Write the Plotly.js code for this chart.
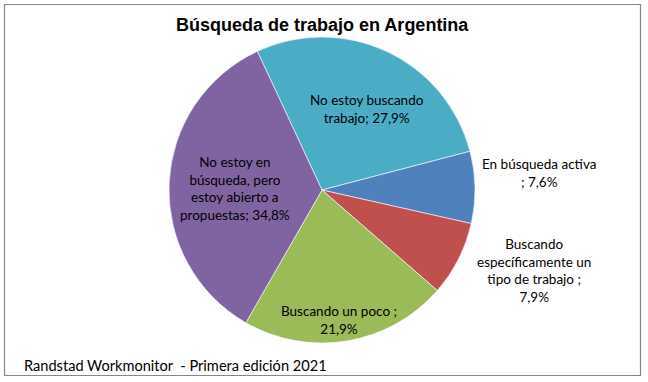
<!DOCTYPE html>
<html>
<head>
<meta charset="utf-8">
<script src="https://cdn.plot.ly/plotly-3.0.1.min.js"></script>
<style>
html,body{margin:0;padding:0;background:#fff;}
#chart{width:648px;height:382px;}
</style>
</head>
<body>
<div id="chart"></div>
<script>
// Data (clockwise order starting at the top-left boundary)
const categories = [
  'No estoy buscando trabajo',
  'En búsqueda activa',
  'Buscando específicamente un tipo de trabajo',
  'Buscando un poco',
  'No estoy en búsqueda, pero estoy abierto a propuestas'
];
const values = [27.9, 7.6, 7.9, 21.9, 34.8];
const colors = ['#4BACC6', '#4F81BD', '#C0504D', '#9BBB59', '#8064A2'];
// Label templates as wrapped in the reference ({v} = value)
const labelTemplates = [
  'No estoy buscando<br>trabajo; {v}',
  'En búsqueda activa<br>; {v}',
  'Buscando<br>específicamente un<br>tipo de trabajo ;<br>{v}',
  'Buscando un poco ;<br>{v}',
  'No estoy en<br>búsqueda, pero<br>estoy abierto a<br>propuestas; {v}'
];
const titleText = 'Búsqueda de trabajo en Argentina';
const sourceText = 'Randstad Workmonitor  - Primera edición 2021';

const W = 648, H = 382;
const fmt = v => v.toFixed(1).replace('.', ',') + '%';
// label block centres in pixels
const labelPos = [[367, 109], [539, 172.5], [534, 270.5], [339, 320], [235, 188.5]];

const annotations = labelTemplates.map((t, i) => ({
  xref: 'paper', yref: 'paper',
  x: labelPos[i][0] / W, y: 1 - labelPos[i][1] / H,
  xanchor: 'center', yanchor: 'middle',
  text: t.replace('{v}', fmt(values[i])),
  showarrow: false, align: 'center',
  font: {family: 'Lato, Carlito, sans-serif', size: 13.5, color: '#000'}
}));
annotations.push({
  xref: 'paper', yref: 'paper', x: 22 / W, y: 1 - 365 / H,
  xanchor: 'left', yanchor: 'middle', showarrow: false,
  text: sourceText,
  font: {family: 'Lato, Carlito, sans-serif', size: 14.6, color: '#000'}
});
annotations.push({
  xref: 'paper', yref: 'paper', x: 322 / W, y: 1 - 25 / H,
  xanchor: 'center', yanchor: 'middle', showarrow: false,
  text: '<b>' + titleText + '</b>',
  font: {family: 'Liberation Sans, Arial, sans-serif', size: 18, color: '#000'}
});

const cx = 322, cy = 190, r = 153;
const trace = {
  type: 'pie',
  labels: categories,
  values: values,
  sort: false,
  direction: 'clockwise',
  rotation: -25,
  marker: {colors: colors, line: {color: 'rgba(255,255,255,0.6)', width: 1}},
  textinfo: 'none',
  hoverinfo: 'label+percent',
  showlegend: false,
  domain: {x: [(cx - r) / W, (cx + r) / W], y: [1 - (cy + r) / H, 1 - (cy - r) / H]}
};

const layout = {
  width: W, height: H,
  margin: {l: 0, r: 0, t: 0, b: 0},
  paper_bgcolor: '#fff',
  showlegend: false,
  annotations: annotations,
  shapes: [{
    type: 'rect', xref: 'paper', yref: 'paper',
    x0: 4.5 / W, x1: 640.5 / W, y0: 1 - 375.5 / H, y1: 1 - 4.5 / H,
    line: {color: '#878787', width: 1.2}, fillcolor: 'rgba(0,0,0,0)'
  }]
};

Plotly.newPlot('chart', [trace], layout, {staticPlot: true});
</script>
</body>
</html>
